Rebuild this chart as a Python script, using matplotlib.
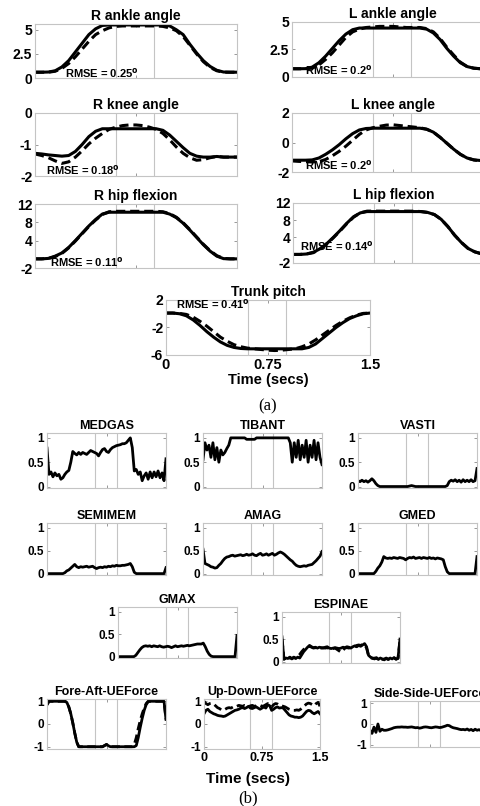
#!/usr/bin/env python3
"""Joint angles (a) and muscle activations / UE forces (b) over a 1.5 s movement."""

import numpy as np
import matplotlib

matplotlib.use("Agg")
import matplotlib.pyplot as plt

plt.rcParams["font.family"] = ["Liberation Sans", "DejaVu Sans"]
plt.rcParams["font.weight"] = "bold"
plt.rcParams["axes.unicode_minus"] = False

W, H = 480, 806

# ---- panel (a): joint angles, solid = model, dashed = experiment ----
t_joint = np.arange(31) * 0.05

r_ankle_solid = [0.6, 0.6, 0.62, 0.75, 1.15, 1.8, 2.7, 3.6, 4.5, 5.1, 5.45, 5.5, 5.5, 5.5, 5.5, 5.5,
                 5.5, 5.5, 5.5, 5.5, 5.4, 5.0, 4.5, 3.5, 2.6, 1.8, 1.2, 0.8, 0.62, 0.6, 0.6]
r_ankle_dash = [0.6, 0.6, 0.6, 0.7, 1.0, 1.5, 2.2, 3.0, 3.8, 4.5, 4.9, 5.2, 5.35, 5.4, 5.4, 5.4,
                5.4, 5.4, 5.4, 5.35, 5.2, 4.9, 4.3, 3.4, 2.5, 1.7, 1.1, 0.75, 0.6, 0.6, 0.6]

l_ankle_solid = [0.75, 0.75, 0.76, 0.9, 1.3, 1.9, 2.6, 3.3, 3.9, 4.3, 4.45, 4.45, 4.45, 4.45, 4.45, 4.45,
                 4.45, 4.45, 4.45, 4.45, 4.35, 4.0, 3.4, 2.6, 1.9, 1.3, 0.95, 0.8, 0.75, 0.75, 0.75]
l_ankle_dash = [0.75, 0.75, 0.75, 0.8, 1.1, 1.6, 2.2, 2.9, 3.6, 4.1, 4.35, 4.5, 4.55, 4.6, 4.6, 4.6,
                4.55, 4.5, 4.5, 4.5, 4.4, 4.1, 3.5, 2.7, 2.0, 1.35, 0.95, 0.8, 0.75, 0.75, 0.75]

r_knee_solid = [-1.28, -1.3, -1.33, -1.35, -1.37, -1.35, -1.22, -1.0, -0.75, -0.58, -0.5, -0.5, -0.5, -0.5,
                -0.5, -0.5, -0.5, -0.5, -0.5, -0.55, -0.7, -0.9, -1.1, -1.28, -1.37, -1.4, -1.4, -1.38,
                -1.4, -1.4, -1.4]
r_knee_dash = [-1.3, -1.35, -1.42, -1.52, -1.6, -1.55, -1.4, -1.2, -0.98, -0.8, -0.65, -0.52, -0.45, -0.4,
               -0.38, -0.38, -0.4, -0.45, -0.52, -0.65, -0.85, -1.08, -1.28, -1.42, -1.5, -1.48, -1.42,
               -1.38, -1.4, -1.4, -1.4]

l_knee_solid = [-1.2, -1.2, -1.2, -1.18, -1.05, -0.8, -0.5, -0.15, 0.25, 0.6, 0.85, 0.95, 0.97, 0.97, 0.97,
                0.97, 0.97, 0.97, 0.97, 0.97, 0.9, 0.7, 0.35, -0.05, -0.45, -0.8, -1.05, -1.18, -1.22,
                -1.22, -1.22]
l_knee_dash = [-1.25, -1.28, -1.3, -1.32, -1.3, -1.15, -0.9, -0.6, -0.25, 0.15, 0.55, 0.85, 1.0, 1.1, 1.18,
               1.2, 1.15, 1.1, 1.05, 1.0, 0.9, 0.7, 0.35, -0.05, -0.45, -0.8, -1.05, -1.18, -1.25,
               -1.25, -1.25]

r_hip_solid = [0.0, 0.0, 0.1, 0.6, 1.3, 2.5, 4.0, 5.6, 7.2, 8.6, 9.8, 10.2, 10.2, 10.2, 10.2, 10.2,
               10.2, 10.2, 10.2, 10.2, 9.8, 9.0, 7.8, 6.3, 4.7, 3.1, 1.7, 0.6, 0.05, 0.0, 0.0]
r_hip_dash = [0.0, 0.0, 0.1, 0.5, 1.2, 2.4, 3.9, 5.5, 7.1, 8.5, 9.7, 10.3, 10.4, 10.4, 10.4, 10.4,
              10.4, 10.4, 10.4, 10.3, 9.9, 9.1, 7.9, 6.4, 4.8, 3.2, 1.8, 0.7, 0.1, 0.0, 0.0]

l_hip_solid = [0.0, 0.0, 0.1, 0.5, 1.3, 2.5, 4.0, 5.6, 7.3, 8.8, 9.7, 10.0, 10.0, 10.0, 10.0, 10.0,
               10.0, 10.0, 10.0, 10.0, 9.8, 9.3, 8.2, 6.5, 4.5, 2.8, 1.4, 0.6, 0.15, 0.0, 0.0]
l_hip_dash = [0.0, 0.0, 0.1, 0.4, 1.2, 2.4, 3.9, 5.5, 7.2, 8.7, 9.7, 10.1, 10.1, 10.1, 10.1, 10.1,
              10.1, 10.1, 10.1, 10.0, 9.8, 9.3, 8.2, 6.5, 4.5, 2.8, 1.4, 0.6, 0.15, 0.0, 0.0]

trunk_solid = [0.1, 0.1, 0.0, -0.3, -0.9, -1.7, -2.6, -3.4, -4.1, -4.6, -4.9, -5.05, -5.1, -5.1, -5.1,
               -5.1, -5.1, -5.1, -5.1, -5.1, -5.1, -4.9, -4.4, -3.6, -2.8, -2.0, -1.3, -0.7, -0.3, 0.0, 0.1]
trunk_dash = [0.1, 0.1, 0.05, -0.1, -0.5, -1.1, -1.8, -2.6, -3.4, -4.0, -4.5, -4.8, -5.0, -5.1, -5.2,
              -5.3, -5.35, -5.3, -5.2, -5.1, -4.8, -4.4, -3.8, -3.1, -2.4, -1.7, -1.1, -0.6, -0.2, 0.05, 0.1]

# ---- panel (b): muscle activations and upper-extremity forces ----
t_musc = np.arange(61) * 0.025

medgas = [0.79, 0.25, 0.3, 0.2, 0.28, 0.22, 0.25, 0.15, 0.18, 0.25, 0.3, 0.33, 0.5, 0.72, 0.68, 0.65,
          0.7, 0.66, 0.7, 0.68, 0.66, 0.7, 0.74, 0.72, 0.7, 0.68, 0.63, 0.7, 0.76, 0.78, 0.72, 0.7,
          0.76, 0.8, 0.82, 0.84, 0.85, 0.86, 0.88, 0.88, 0.9, 0.95, 1.0, 0.8, 0.32, 0.35, 0.25, 0.3,
          0.12, 0.22, 0.28, 0.15, 0.3, 0.18, 0.3, 0.2, 0.32, 0.18, 0.28, 0.12, 0.57]
tibant = [0.55, 0.9, 0.75, 0.85, 0.6, 0.9, 0.55, 0.8, 0.5, 0.75, 0.65, 0.7, 0.78, 0.85, 1.0, 1.0,
          1.0, 1.0, 1.0, 1.0, 1.0, 1.0, 0.97, 0.97, 0.97, 0.97, 0.97, 1.0, 1.0, 1.0, 1.0, 1.0,
          1.0, 1.0, 1.0, 1.0, 1.0, 1.0, 1.0, 1.0, 1.0, 1.0, 1.0, 1.0, 0.9, 0.5, 0.9, 0.6,
          0.95, 0.55, 0.85, 0.6, 0.95, 0.5, 0.85, 0.6, 0.95, 0.55, 0.9, 0.6, 0.45]
vasti = [0.12, 0.1, 0.13, 0.1, 0.12, 0.09, 0.12, 0.16, 0.12, 0.06, 0.02, 0.0, 0.0, 0.0, 0.0, 0.0,
         0.0, 0.0, 0.0, 0.0, 0.0, 0.0, 0.0, 0.0, 0.0, 0.0, 0.01, 0.02, 0.01, 0.0, 0.0, 0.0,
         0.0, 0.0, 0.0, 0.0, 0.0, 0.0, 0.0, 0.0, 0.0, 0.0, 0.0, 0.0, 0.0, 0.02, 0.1, 0.13,
         0.11, 0.14, 0.1, 0.13, 0.09, 0.14, 0.1, 0.13, 0.1, 0.14, 0.1, 0.12, 0.37]
semimem = [0.0, 0.0, 0.0, 0.0, 0.0, 0.0, 0.0, 0.0, 0.0, 0.02, 0.06, 0.08, 0.12, 0.16, 0.2, 0.15,
           0.13, 0.15, 0.14, 0.15, 0.16, 0.14, 0.15, 0.16, 0.13, 0.11, 0.13, 0.14, 0.13, 0.15, 0.14, 0.16,
           0.15, 0.17, 0.16, 0.18, 0.17, 0.17, 0.18, 0.18, 0.19, 0.2, 0.22, 0.15, 0.03, 0.0, 0.0, 0.0,
           0.0, 0.0, 0.0, 0.0, 0.0, 0.0, 0.0, 0.0, 0.0, 0.0, 0.0, 0.0, 0.13]
amag = [0.53, 0.22, 0.2, 0.18, 0.15, 0.14, 0.12, 0.13, 0.18, 0.22, 0.28, 0.33, 0.36, 0.37, 0.39, 0.4,
        0.38, 0.39, 0.4, 0.41, 0.39, 0.4, 0.42, 0.4, 0.41, 0.43, 0.4, 0.39, 0.42, 0.44, 0.4, 0.41,
        0.43, 0.4, 0.42, 0.44, 0.4, 0.42, 0.45, 0.47, 0.45, 0.42, 0.38, 0.34, 0.3, 0.27, 0.22, 0.18,
        0.16, 0.15, 0.16, 0.17, 0.16, 0.18, 0.19, 0.2, 0.24, 0.28, 0.33, 0.38, 0.48]
gmed = [0.0, 0.0, 0.0, 0.0, 0.0, 0.0, 0.0, 0.0, 0.0, 0.05, 0.12, 0.17, 0.25, 0.37, 0.34, 0.33,
        0.34, 0.33, 0.35, 0.34, 0.33, 0.35, 0.34, 0.33, 0.3, 0.33, 0.35, 0.34, 0.36, 0.33, 0.34, 0.35,
        0.33, 0.35, 0.34, 0.33, 0.35, 0.33, 0.34, 0.32, 0.34, 0.33, 0.32, 0.3, 0.15, 0.04, 0.0, 0.0,
        0.0, 0.0, 0.0, 0.0, 0.0, 0.0, 0.0, 0.0, 0.0, 0.0, 0.0, 0.0, 0.37]
gmax = [0.0, 0.0, 0.0, 0.0, 0.0, 0.0, 0.0, 0.0, 0.0, 0.03, 0.09, 0.15, 0.2, 0.23, 0.24, 0.23,
        0.24, 0.22, 0.24, 0.23, 0.22, 0.24, 0.22, 0.21, 0.22, 0.23, 0.22, 0.2, 0.22, 0.24, 0.22, 0.23,
        0.24, 0.23, 0.24, 0.25, 0.24, 0.25, 0.26, 0.27, 0.28, 0.28, 0.28, 0.3, 0.22, 0.12, 0.05, 0.01,
        0.0, 0.0, 0.0, 0.0, 0.0, 0.0, 0.0, 0.0, 0.0, 0.0, 0.0, 0.0, 0.47]
espinae_solid = [0.55, 0.05, 0.08, 0.07, 0.1, 0.06, 0.09, 0.07, 0.1, 0.08, 0.15, 0.22, 0.27, 0.32, 0.36, 0.33,
                 0.31, 0.32, 0.3, 0.32, 0.31, 0.3, 0.32, 0.33, 0.3, 0.29, 0.3, 0.31, 0.3, 0.29, 0.3, 0.32,
                 0.31, 0.33, 0.32, 0.3, 0.33, 0.35, 0.33, 0.36, 0.34, 0.37, 0.4, 0.33, 0.14, 0.1, 0.08, 0.06,
                 0.09, 0.05, 0.08, 0.06, 0.04, 0.07, 0.05, 0.08, 0.06, 0.09, 0.05, 0.08, 0.5]
espinae_dash = [0.5, 0.06, 0.09, 0.06, 0.09, 0.07, 0.1, 0.08, 0.12, 0.16, 0.22, 0.27, 0.3, 0.33, 0.34, 0.32,
                0.3, 0.31, 0.3, 0.31, 0.3, 0.31, 0.3, 0.31, 0.29, 0.28, 0.29, 0.3, 0.27, 0.24, 0.21, 0.25,
                0.3, 0.31, 0.3, 0.32, 0.34, 0.33, 0.36, 0.37, 0.36, 0.38, 0.38, 0.3, 0.13, 0.09, 0.07, 0.08,
                0.07, 0.06, 0.09, 0.05, 0.06, 0.08, 0.05, 0.07, 0.05, 0.08, 0.06, 0.07, 0.48]

fore_aft_solid = [0.85, 1.0, 1.0, 1.0, 1.0, 1.0, 1.0, 1.0, 1.0, 1.0, 0.95, 0.75, 0.45, 0.05, -0.4, -0.8,
                  -1.0, -1.0, -1.0, -1.0, -1.0, -1.0, -1.0, -1.0, -1.0, -1.0, -1.0, -1.0, -1.0, -0.95, -0.9, -0.96,
                  -1.0, -1.0, -1.0, -1.0, -1.0, -1.0, -1.0, -1.0, -1.0, -1.0, -1.0, -1.0, -1.0, -0.95, -0.6, -0.15,
                  0.25, 0.6, 0.85, 0.98, 1.0, 1.0, 1.0, 1.0, 1.0, 1.0, 1.0, 1.0, 0.2]
fore_aft_dash = [0.85, 1.0, 1.0, 1.0, 1.0, 1.0, 1.0, 1.0, 1.0, 1.0, 0.95, 0.75, 0.45, 0.05, -0.4, -0.8,
                 -1.0, -1.0, -1.0, -1.0, -1.0, -1.0, -1.0, -1.0, -1.0, -1.0, -1.0, -1.0, -1.0, -0.95, -0.9, -0.96,
                 -1.0, -1.0, -1.0, -1.0, -1.0, -1.0, -1.0, -1.0, -1.0, -1.0, -1.0, -1.0, -0.9, -0.6, -0.2, 0.15,
                 0.45, 0.7, 0.9, 1.0, 1.0, 1.0, 1.0, 1.0, 1.0, 1.0, 1.0, 1.0, 0.2]
up_down_solid = [0.45, 0.6, 0.65, 0.55, 0.5, 0.45, 0.42, 0.38, 0.36, 0.35, 0.33, 0.35, 0.4, 0.45, 0.5, 0.55,
                 0.6, 0.62, 0.65, 0.7, 0.72, 0.68, 0.72, 0.78, 0.7, 0.68, 0.72, 0.75, 0.7, 0.65, 0.7, 0.75,
                 0.7, 0.85, 0.8, 0.6, 0.65, 0.72, 0.75, 0.7, 0.72, 0.7, 0.6, 0.5, 0.4, 0.35, 0.33, 0.3,
                 0.3, 0.28, 0.3, 0.35, 0.45, 0.55, 0.6, 0.58, 0.5, 0.45, 0.5, 0.55, 0.45]
up_down_dash = [1.0, 0.9, 0.85, 0.9, 0.92, 0.88, 0.8, 0.72, 0.68, 0.62, 0.6, 0.65, 0.7, 0.72, 0.7, 0.75,
                0.8, 0.78, 0.82, 0.8, 0.78, 0.82, 0.8, 0.75, 0.8, 0.82, 0.78, 0.8, 0.85, 0.82, 0.78, 0.8,
                0.85, 0.9, 0.82, 0.75, 0.85, 0.9, 0.88, 0.82, 0.8, 0.78, 0.75, 0.7, 0.65, 0.62, 0.6, 0.6,
                0.62, 0.6, 0.65, 0.72, 0.8, 0.88, 0.92, 0.9, 0.85, 0.8, 0.9, 0.95, 0.78]
side_side = [-0.3, -0.45, -0.15, -0.4, 0.0, -0.35, -0.25, -0.3, -0.3, -0.28, -0.25, -0.22, -0.18, -0.16, -0.15, -0.15,
             -0.14, -0.15, -0.15, -0.16, -0.15, -0.14, -0.16, -0.18, -0.17, -0.2, -0.18, -0.15, -0.14, -0.15, -0.17, -0.18,
             -0.16, -0.14, -0.15, -0.17, -0.16, -0.13, -0.1, -0.06, -0.08, -0.14, -0.18, -0.2, -0.22, -0.25, -0.27, -0.26,
             -0.28, -0.24, -0.3, -0.26, -0.32, -0.25, -0.3, -0.27, -0.32, -0.26, -0.3, -0.28, -0.3]

phase_marks = [0.6, 0.88]

GRAY = "#c4c4c4"


def box(x0, y0, x1, y1):
    return [x0 / W, 1 - y1 / H, (x1 - x0) / W, (y1 - y0) / H]


def make_ax(fig, px, title, ylim, yticks, ylabels, fs_tick, fs_title, show_x=False):
    ax = fig.add_axes(box(*px))
    ax.set_xlim(0, 1.5)
    ax.set_ylim(*ylim)
    ax.set_xticks([0, 0.75, 1.5])
    ax.set_yticks(yticks)
    ax.set_yticklabels(ylabels, fontsize=fs_tick, fontweight="bold")
    if show_x:
        ax.set_xticklabels(["0", "0.75", "1.5"], fontsize=fs_tick + 0.5, fontweight="bold")
    else:
        ax.set_xticklabels([])
    ax.tick_params(direction="in", length=2.5, width=0.6, color="#888888", top=True, right=True, pad=2)
    for s in ax.spines.values():
        s.set_color(GRAY)
        s.set_linewidth(0.8)
    for m in phase_marks:
        ax.axvline(m, color=GRAY, lw=0.8, zorder=0)
    ax.set_title(title, fontsize=fs_title, fontweight="bold", pad=3)
    ax.patch.set_alpha(0)
    return ax


fig = plt.figure(figsize=(W / 100, H / 100), dpi=100)

LW_A = 2.2
joint_panels = [
    ("R ankle angle", (35, 24, 237, 78), (0, 5.6), [0, 2.5, 5], ["0", "2.5", "5"],
     r_ankle_solid, r_ankle_dash, "RMSE = 0.25$^\\mathbf{o}$", (0.22, 0.5)),
    ("L ankle angle", (292, 22, 494, 77), (0, 5), [0, 2.5, 5], ["0", "2.5", "5"],
     l_ankle_solid, l_ankle_dash, "RMSE = 0.2$^\\mathbf{o}$", (0.1, 0.64)),
    ("R knee angle", (35, 113, 237, 176), (-2, 0), [-2, -1, 0], ["-2", "-1", "0"],
     r_knee_solid, r_knee_dash, "RMSE = 0.18$^\\mathbf{o}$", (0.08, -1.8)),
    ("L knee angle", (292, 113, 494, 172), (-2, 2), [-2, 0, 2], ["-2", "0", "2"],
     l_knee_solid, l_knee_dash, "RMSE = 0.2$^\\mathbf{o}$", (0.1, -1.5)),
    ("R hip flexion", (35, 204, 237, 268), (-2, 12), [-2, 4, 8, 12], ["-2", "4", "8", "12"],
     r_hip_solid, r_hip_dash, "RMSE = 0.11$^\\mathbf{o}$", (0.11, -0.75)),
    ("L hip flexion", (293, 203, 495, 263), (-2, 12), [-2, 4, 8, 12], ["-2", "4", "8", "12"],
     l_hip_solid, l_hip_dash, "RMSE = 0.14$^\\mathbf{o}$", (0.05, 1.9)),
    ("Trunk pitch", (166, 300, 370, 355), (-6, 2), [-6, -2, 2], ["-6", "-2", "2"],
     trunk_solid, trunk_dash, "RMSE = 0.41$^\\mathbf{o}$", (0.07, 1.45)),
]

for title, px, ylim, yt, yl, solid, dash, rmse, rpos in joint_panels:
    is_trunk = title == "Trunk pitch"
    ax = make_ax(fig, px, title, ylim, yt, yl, 10, 10, show_x=is_trunk)
    ax.plot(t_joint, dash, color="black", lw=LW_A, ls=(0, (3, 1.6)))
    ax.plot(t_joint, solid, color="black", lw=LW_A)
    ax.text(rpos[0], rpos[1], rmse, fontsize=8, fontweight="bold", va="center", ha="left")
    if is_trunk:
        ax.set_xlabel("Time (secs)", fontsize=10.5, fontweight="bold", labelpad=1)

fig.text(268 / W, 1 - 406 / H, "(a)", ha="center", va="center", fontsize=12,
         family="Liberation Serif", fontweight="normal")

LW_B = 2.0
muscle_panels = [
    ("MEDGAS", (47, 433, 166, 488), medgas, None),
    ("TIBANT", (203, 433, 322, 488), tibant, None),
    ("VASTI", (358, 433, 477, 488), vasti, None),
    ("SEMIMEM", (47, 523, 166, 575), semimem, None),
    ("AMAG", (203, 523, 322, 575), amag, None),
    ("GMED", (358, 523, 477, 575), gmed, None),
    ("GMAX", (118, 607, 237, 658), gmax, None),
    ("ESPINAE", (282, 612, 400, 663), espinae_solid, espinae_dash),
]

for title, px, solid, dash in muscle_panels:
    ax = make_ax(fig, px, title, (-0.03, 1.1), [0, 0.5, 1], ["0", "0.5", "1"], 8.5, 9)
    if dash is not None:
        ax.plot(t_musc, dash, color="black", lw=LW_B, ls=(0, (3, 1.6)))
    ax.plot(t_musc, solid, color="black", lw=LW_B)

force_panels = [
    ("Fore-Aft-UEForce", (47, 699, 166, 749), fore_aft_solid, fore_aft_dash, False),
    ("Up-Down-UEForce", (204, 699, 320, 749), up_down_solid, up_down_dash, True),
    ("Side-Side-UEForce", (370, 701, 489, 747), side_side, None, False),
]

for title, px, solid, dash, show_x in force_panels:
    ax = make_ax(fig, px, title, (-1.1, 1.1), [-1, 0, 1], ["-1", "0", "1"], 8.5, 9, show_x=show_x)
    if dash is not None:
        ax.plot(t_musc, dash, color="black", lw=LW_B, ls=(0, (3, 1.6)))
    ax.plot(t_musc, solid, color="black", lw=LW_B)
    if show_x:
        ax.set_xlabel("Time (secs)", fontsize=11, fontweight="bold", labelpad=3)
        ax.xaxis.set_label_coords(0.38, -0.45)

fig.text(248 / W, 1 - 798 / H, "(b)", ha="center", va="center", fontsize=12,
         family="Liberation Serif", fontweight="normal")

fig.savefig("out.png", dpi=100)
